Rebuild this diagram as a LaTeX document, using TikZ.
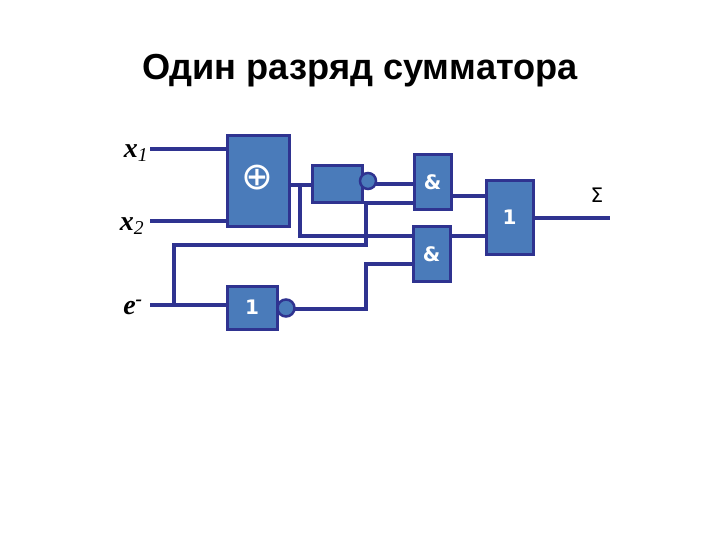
\documentclass[tikz,border=0pt]{standalone}
\usepackage{fontspec}
\setmainfont{Liberation Sans}
\newfontfamily\serifvar{Liberation Serif}
\newfontfamily\symvar{DejaVu Sans}
\definecolor{gatefill}{HTML}{4A7BBA}
\definecolor{wirecol}{HTML}{2F3390}
\begin{document}
\begin{tikzpicture}[x=1pt,y=-1pt,
  gate/.style={draw=wirecol,fill=gatefill,line width=3pt,inner sep=0pt,outer sep=0pt,text=white,font=\symvar\bfseries\fontsize{20}{20}\selectfont},
  inv/.style={circle,draw=wirecol,fill=gatefill,line width=2.5pt,minimum size=16pt,inner sep=0pt,outer sep=0pt},
  wire/.style={draw=wirecol,line width=3.4pt},
  inlabel/.style={font=\serifvar\fontsize{28}{28}\selectfont\bfseries\itshape,inner sep=0pt}]
\useasboundingbox (0,0) rectangle (720,540);
\node[font=\bfseries\fontsize{36.2}{37}\selectfont,inner sep=0pt] (title) at (360,71) {Один разряд сумматора};

\node[gate,minimum width=62pt,minimum height=91pt] (xor) at (258,181.5) {};
\node[text=white,font=\symvar\fontsize{38}{38}\selectfont,inner sep=0pt] (xorsym) at (257,178) {⊕};
\node[gate,minimum width=50pt,minimum height=37pt] (dly) at (337,184.5) {};
\node[inv] (c1) at (368,181) {};
\node[gate,minimum width=37pt,minimum height=55pt] (and1) at (432.5,182) {\&};
\node[gate,minimum width=37pt,minimum height=55pt] (and2) at (431.5,254) {\&};
\node[gate,minimum width=47pt,minimum height=73pt] (or) at (509.5,217.5) {1};
\node[gate,minimum width=50pt,minimum height=43pt] (not) at (252,307.5) {1};
\node[inv,minimum size=17pt] (c2) at (286,308) {};

\node[inlabel] (x1) at (136,153) {x\textsubscript{\mdseries 1}};
\node[inlabel] (x2) at (132,226) {x\textsubscript{\mdseries 2}};
\node[inlabel] (e) at (133,307) {e\textsuperscript{-}};
\node[font=\symvar\fontsize{20}{20}\selectfont,inner sep=0pt] (sum) at (597,195) {Σ};

\coordinate (a1) at (150,149);
\coordinate (a2) at (150,221);
\coordinate (a3) at (150,305);
\coordinate (j1) at (174,305);
\coordinate (j2) at (174,245);
\coordinate (j3) at (366,245);
\coordinate (j4) at (366,203);
\coordinate (j5) at (300,185);
\coordinate (j6) at (300,236);
\coordinate (j7) at (366,309);
\coordinate (j8) at (366,264);
\coordinate (out) at (610,218);

\draw[wire] (a1) -- (xor.west |- a1);
\draw[wire] (a2) -- (xor.west |- a2);
\draw[wire] (a3) -- (not.west |- a3);
\draw[wire,line join=miter] (j1) -- (j2) -- (j3) -- (j4) -- (and1.west |- j4);
\draw[wire] (xor.east |- j5) -- (dly.west |- j5);
\draw[wire] (j5) -- (j6) -- (and2.west |- j6);
\draw[wire] (c1.east |- 0,184) -- (and1.west |- 0,184);
\draw[wire] (c2.east |- j7) -- (j7) -- (j8) -- (and2.west |- j8);
\draw[wire] (and1.east |- 0,196) -- (or.west |- 0,196);
\draw[wire] (and2.east |- j6) -- (or.west |- j6);
\draw[wire] (or.east |- out) -- (out);
\end{tikzpicture}
\end{document}
